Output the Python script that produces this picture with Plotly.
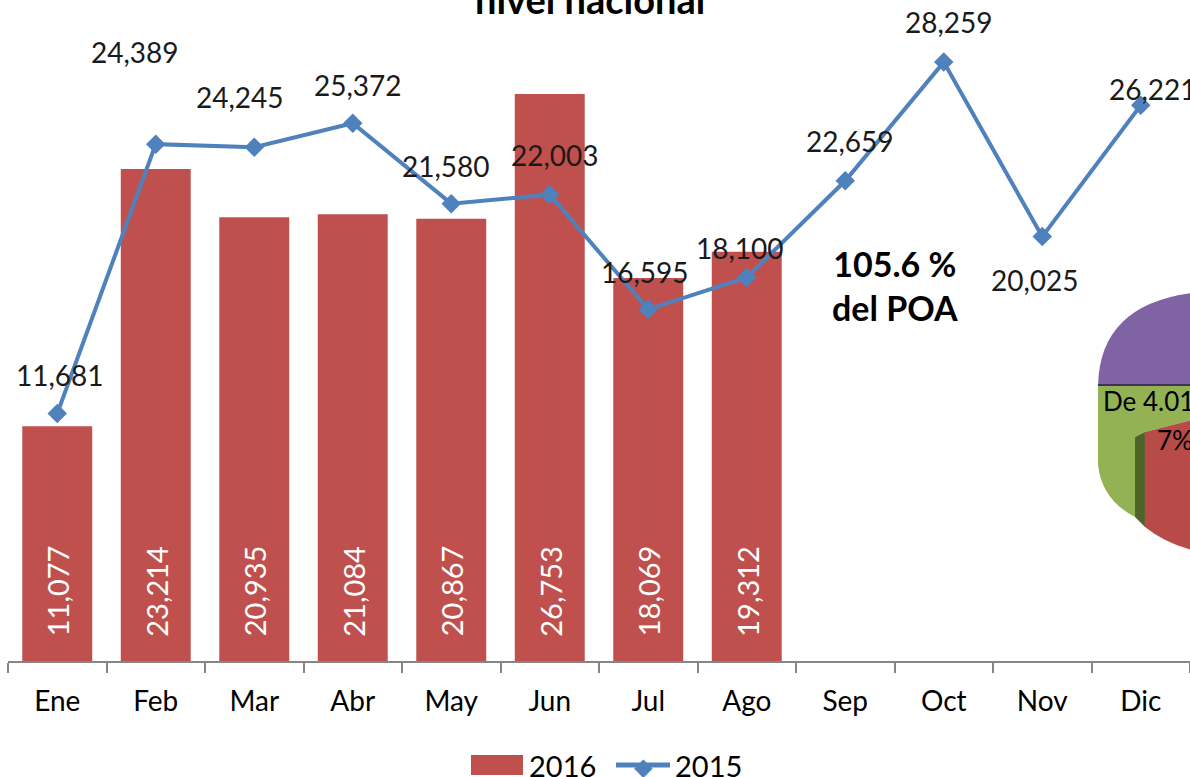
import plotly.graph_objects as go

# datos
meses = ["Ene", "Feb", "Mar", "Abr", "May", "Jun", "Jul", "Ago", "Sep", "Oct", "Nov", "Dic"]
v2016 = [11077, 23214, 20935, 21084, 20867, 26753, 18069, 19312]
v2015 = [11681, 24389, 24245, 25372, 21580, 22003, 16595, 18100, 22659, 28259, 20025, 26221]

# desplazamiento de las etiquetas de la linea (px)
offs_x = [3, -21, -14, 5, -5, 5, -3, -7, 5, 5, -7, 12]
offs_y = [38, 92, 50, 38, 38, 40, 37, 29, 40, 40, -43, 16]

W, H = 1190, 777
L, B = 8, 116
FONT = "Lato"
ROJO, AZUL = "#C0504D", "#4F81BD"

def px(x, y):
    # pixel -> paper
    return (x - L) / (W - L), (H - B - y) / (H - B)

fig = go.Figure()

fig.add_trace(go.Bar(x=meses[:len(v2016)], y=v2016, name="2016",
                     marker=dict(color=ROJO, line=dict(width=0)),
                     width=0.71))

fig.add_trace(go.Scatter(x=meses, y=v2015, name="2015", mode="lines+markers",
                         line=dict(color=AZUL, width=4),
                         marker=dict(symbol="diamond", size=15, color=AZUL)))

# etiquetas de las barras (blancas, verticales)
for m, v in zip(meses, v2016):
    fig.add_annotation(x=m, y=0, text=f"{v:,}", textangle=-90, showarrow=False,
                       yshift=70, yanchor="middle", xanchor="center",
                       font=dict(family=FONT, size=29, color="white"))

# etiquetas de la linea
for m, v, dx, dy in zip(meses, v2015, offs_x, offs_y):
    fig.add_annotation(x=m, y=v, text=f"{v:,}", showarrow=False,
                       xshift=dx, yshift=dy, yanchor="middle", xanchor="center",
                       font=dict(family=FONT, size=28, color="#1a1a1a"))

# titulo (cortado arriba)
tx, ty = px(590, 24)
fig.add_annotation(xref="paper", yref="paper", x=tx, y=ty, text="<b>nivel nacional</b>",
                   showarrow=False, xanchor="center", yanchor="bottom",
                   font=dict(family=FONT, size=38, color="black"))

ax, ay = px(895, 285)
fig.add_annotation(xref="paper", yref="paper", x=ax, y=ay,
                   text="<b>105.6 %</b><br><b>del POA</b>", showarrow=False,
                   xanchor="center", yanchor="middle",
                   font=dict(family=FONT, size=34, color="black"))

# fragmento del grafico circular pegado a la derecha
def path(pts):
    s = ""
    for cmd, coords in pts:
        n = 2 if cmd == "Q" else 1
        for i in range(0, len(coords), n):
            grp = [px(*c) for c in coords[i:i + n]]
            s += cmd + " " + " ".join(f"{a:.4f},{b:.4f}" for a, b in grp) + " "
    return s + "Z"

pie_parts = [
    ("#7F63A2", [("M", [(1098, 385)]), ("Q", [(1100, 305), (1192, 293)]), ("L", [(1192, 385)])]),
    ("#93B254", [("M", [(1098, 385)]), ("L", [(1192, 385), (1192, 420), (1145, 432), (1135, 437), (1135, 517)]),
                 ("Q", [(1102, 500), (1098, 465)])]),
    ("#4F6228", [("M", [(1135, 437)]), ("L", [(1145, 432), (1145, 527), (1135, 517)])]),
    ("#B84A47", [("M", [(1145, 432)]), ("L", [(1192, 420), (1192, 550)]), ("Q", [(1165, 543), (1145, 527)])]),
]
for col, pts in pie_parts:
    fig.add_shape(type="path", xref="paper", yref="paper", path=path(pts),
                  fillcolor=col, line=dict(width=0), layer="above")
x0, y0 = px(1098, 385)
x1, y1 = px(1192, 385)
fig.add_shape(type="line", xref="paper", yref="paper", x0=x0, y0=y0, x1=x1, y1=y1,
              line=dict(color="#3f3159", width=2), layer="above")

for t, (x, y) in [("De 4.01", (1101, 401)), ("7%", (1155, 440))]:
    xx, yy = px(x, y)
    fig.add_annotation(xref="paper", yref="paper", x=xx, y=yy, text=t, showarrow=False,
                       xanchor="left", yanchor="middle",
                       font=dict(family=FONT, size=26, color="black"))

# leyenda
r0, r1 = px(471, 755), px(523, 775)
fig.add_shape(type="rect", xref="paper", yref="paper", x0=r0[0], y0=r0[1], x1=r1[0], y1=r1[1],
              fillcolor=ROJO, line=dict(width=0))
l0, l1 = px(616, 765), px(670, 765)
fig.add_shape(type="line", xref="paper", yref="paper", x0=l0[0], y0=l0[1], x1=l1[0], y1=l1[1],
              line=dict(color=AZUL, width=5))
d = px(643, 765)
fig.add_annotation(xref="paper", yref="paper", x=d[0], y=d[1], text="◆", showarrow=False,
                   xanchor="center", yanchor="middle", font=dict(size=24, color=AZUL))
for t, x in [("2016", 527), ("2015", 673)]:
    p = px(x, 765)
    fig.add_annotation(xref="paper", yref="paper", x=p[0], y=p[1], text=t, showarrow=False,
                       xanchor="left", yanchor="middle",
                       font=dict(family=FONT, size=29, color="black"))

fig.update_layout(
    width=W, height=H,
    margin=dict(l=L, r=0, t=0, b=B, autoexpand=False),
    plot_bgcolor="white", paper_bgcolor="white",
    showlegend=False,
    font=dict(family=FONT, size=28, color="black"),
    xaxis=dict(type="category", range=[-0.5, 11.5], showline=True, linecolor="#868686",
               linewidth=2, ticks="outside", ticklen=10, tickcolor="#868686", tickwidth=2,
               tickson="boundaries", showgrid=False, tickfont=dict(size=28),
               ticklabelstandoff=14, automargin=False),
    yaxis=dict(range=[0, 31190], visible=False, showgrid=False, automargin=False),
)

# quitar el margen del body para que la figura empiece en (0, 0)
fig.write_html("out.html", config={"displayModeBar": False},
               post_script="document.body.style.margin='0';document.body.style.overflow='hidden';")
